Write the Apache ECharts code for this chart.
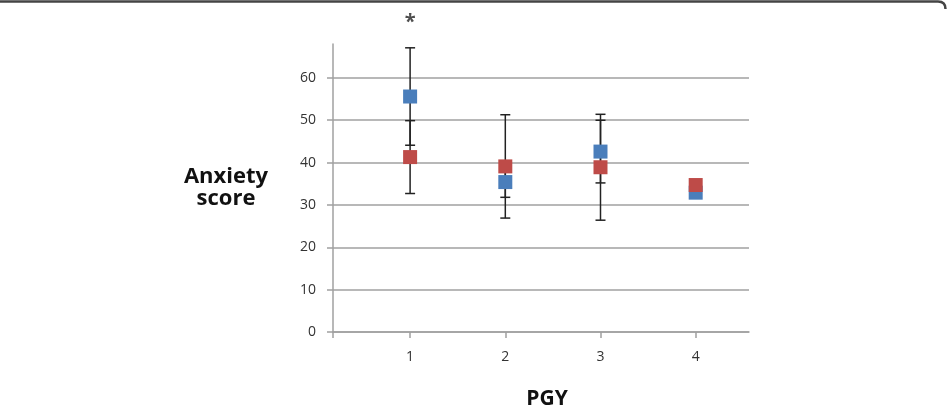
<!DOCTYPE html>
<html>
<head>
<meta charset="utf-8">
<script src="https://cdn.jsdelivr.net/npm/echarts@6/dist/echarts.min.js"></script>
<style>html,body{margin:0;padding:0;background:#fff;}#c{width:947px;height:410px;}</style>
</head>
<body>
<div id="c"></div>
<script>
// Data
const pgy = [1, 2, 3, 4];
const blueMean = [55.6, 35.4, 42.6, 32.9];
const blueErr = [11.5, 3.6, 7.4, null];
const redMean = [41.3, 39.1, 38.9, 34.7];
const redErr = [8.6, 12.2, 12.5, null];
const sigPgy = [1];
const yTicks = [0, 10, 20, 30, 40, 50, 60];

const BLUE = '#4a7ebb', RED = '#be4b48';

const errData = [];
pgy.forEach((x, i) => {
  if (blueErr[i] != null) errData.push([x, blueMean[i] - blueErr[i], blueMean[i] + blueErr[i]]);
  if (redErr[i] != null) errData.push([x, redMean[i] - redErr[i], redMean[i] + redErr[i]]);
});
const sigData = sigPgy.map(x => {
  const i = pgy.indexOf(x);
  return [x, blueMean[i] + blueErr[i]];
});

const chart = echarts.init(document.getElementById('c'), null, {renderer: 'canvas'});
const FONT = '"Open Sans", "Liberation Sans", sans-serif';
const gridColors = yTicks.map(() => '#a0a0a0').concat(['rgba(0,0,0,0)']);

chart.setOption({
  animation: false,
  backgroundColor: '#fff',
  grid: {left: 333, right: 198, top: 44, bottom: 78, outerBoundsMode: 'none', containLabel: false},
  xAxis: {
    type: 'value', min: 0.19, max: 4.56,
    name: 'PGY', nameLocation: 'middle', nameGap: 57,
    nameTextStyle: {fontFamily: FONT, fontWeight: 'bold', fontSize: 21, color: '#111', padding: [0, 0, 0, 12]},
    axisLine: {show: true, onZero: true, lineStyle: {color: '#a0a0a0', width: 1.5}},
    axisTick: {show: true, length: 6, customValues: [0.19].concat(pgy), lineStyle: {color: '#a0a0a0', width: 1.5}},
    axisLabel: {customValues: pgy, margin: 18, fontFamily: FONT, fontSize: 14, color: '#333'},
    splitLine: {show: false}
  },
  yAxis: {
    type: 'value', min: 0, max: 68, interval: 10,
    name: 'Anxiety\nscore', nameLocation: 'middle', nameGap: 107, nameRotate: 0,
    nameTextStyle: {fontFamily: FONT, fontWeight: 'bold', fontSize: 22, color: '#111', align: 'center', verticalAlign: 'middle', lineHeight: 22, padding: [0, 0, 8, 0]},
    axisLine: {show: true, lineStyle: {color: '#a0a0a0', width: 1.5}},
    axisTick: {show: true, length: 6, customValues: yTicks, lineStyle: {color: '#a0a0a0', width: 1.5}},
    axisLabel: {customValues: yTicks, margin: 17, fontFamily: FONT, fontSize: 14, color: '#333'},
    splitLine: {show: true, lineStyle: {color: gridColors, width: 1.5}}
  },
  series: [
    {
      type: 'custom',
      data: errData,
      clip: false,
      z: 1,
      renderItem: function (params, api) {
        const x = api.value(0);
        const lo = api.coord([x, api.value(1)]);
        const hi = api.coord([x, api.value(2)]);
        const cap = 5;
        const st = {stroke: '#222', lineWidth: 1.5};
        return {
          type: 'group',
          children: [
            {type: 'line', shape: {x1: lo[0], y1: lo[1], x2: hi[0], y2: hi[1]}, style: st},
            {type: 'line', shape: {x1: lo[0] - cap, y1: lo[1], x2: lo[0] + cap, y2: lo[1]}, style: st},
            {type: 'line', shape: {x1: hi[0] - cap, y1: hi[1], x2: hi[0] + cap, y2: hi[1]}, style: st}
          ]
        };
      }
    },
    {
      type: 'scatter', z: 2, symbol: 'rect', symbolSize: 14,
      itemStyle: {color: BLUE, opacity: 1},
      data: pgy.map((x, i) => [x, blueMean[i]])
    },
    {
      type: 'scatter', z: 3, symbol: 'rect', symbolSize: 14,
      itemStyle: {color: RED, opacity: 1},
      data: pgy.map((x, i) => [x, redMean[i]])
    },
    {
      type: 'scatter', z: 4, symbolSize: 0, clip: false, silent: true,
      data: sigData,
      label: {show: true, position: 'top', distance: 16, formatter: '*', fontFamily: FONT, fontWeight: 'bold', fontSize: 20, color: '#222'}
    }
  ],
  graphic: [
    {type: 'line', silent: true, shape: {x1: 0, y1: 1.5, x2: 938, y2: 1.5}, style: {stroke: '#444', lineWidth: 2.5}},
    {type: 'bezierCurve', silent: true, shape: {x1: 938, y1: 1.5, x2: 945.5, y2: 9, cpx1: 945.5, cpy1: 1.5}, style: {fill: 'none', stroke: '#444', lineWidth: 2.5}}
  ]
});
</script>
</body>
</html>
